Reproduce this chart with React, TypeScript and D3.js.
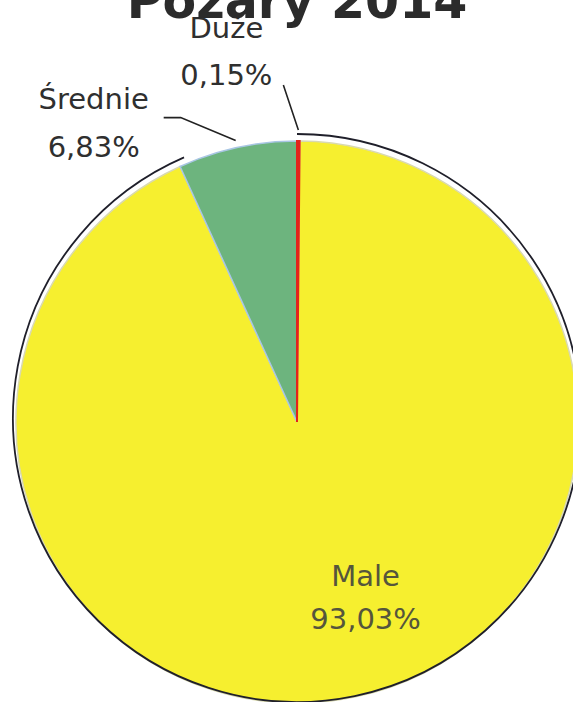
import React from 'react';
import * as d3 from 'd3';

const width = 573;
const height = 702;

// slices, clockwise from 12 o'clock
const categories = ['Duże', 'Male', 'Średnie'];
const values = [0.15, 93.03, 6.83];
const valueLabels = ['0,15%', '93,03%', '6,83%'];
const colors = ['#e3231b', '#f6ef2f', '#6db47e'];

const title = 'Pożary 2014';

const cx = 297;
const cy = 422;
const radius = 281;

const App = () => {
	const arcs = d3.pie<number>().sort(null).value((d) => d)(values);
	const getArc = d3.arc<d3.PieArcDatum<number>>().innerRadius(0).outerRadius(radius);
	const outerPoint = (a: d3.PieArcDatum<number>, r: number) => {
		const mid = (a.startAngle + a.endAngle) / 2;
		return [Math.sin(mid) * r, -Math.cos(mid) * r];
	};

	// outline ring drawn around the pie, open above the green slice
	const ring = d3
		.arc()
		.innerRadius(radius + 3)
		.outerRadius(radius + 3)({
		startAngle: 0,
		endAngle: arcs[2].startAngle + 0.02,
		innerRadius: 0,
		outerRadius: 0,
	} as any);

	const [dx0, dy0] = outerPoint(arcs[0], radius + 7);
	const [dx2, dy2] = outerPoint(arcs[2], radius + 7);
	const [mx, my] = outerPoint(arcs[1], 190);

	const font = 'DejaVu Sans, sans-serif';
	const textColor = '#2f2f2f';

	// draw the thin red slice last so the others' edges don't hide it
	const drawOrder = [1, 2, 0];

	return (
		<svg width={width} height={height} style={{ position: 'absolute', left: 0, top: 0 }}>
			<rect width={width} height={height} fill="#fff" />
			<g transform={`translate(${cx},${cy})`}>
				{drawOrder.map((i) => (
					<path
						key={categories[i]}
						d={getArc(arcs[i]) || ''}
						fill={colors[i]}
						stroke={i === 1 ? '#d9d9b0' : i === 2 ? '#a9c6e4' : colors[i]}
						strokeWidth={i === 0 ? 2 : 1.5}
					/>
				))}
				<path d={ring || ''} fill="none" stroke="#1f1f2a" strokeWidth={1.8} transform="translate(0,-4)" />
				{/* leader lines */}
				<polyline
					points={`${dx0},${dy0 - 4} ${dx0 - 15},${dy0 - 49}`}
					fill="none"
					stroke="#222"
					strokeWidth={1.6}
				/>
				<polyline
					points={`${dx2},${dy2} ${dx2 - 55},${dy2 - 23} ${dx2 - 72},${dy2 - 23}`}
					fill="none"
					stroke="#222"
					strokeWidth={1.6}
				/>
				{/* Duże */}
				<g fontFamily={font} fontSize={29} fill={textColor} textAnchor="middle">
					<text x={dx0 - 72} y={dy0 - 96}>{categories[0]}</text>
					<text x={dx0 - 72} y={dy0 - 49}>{valueLabels[0]}</text>
				</g>
				{/* Średnie */}
				<g fontFamily={font} fontSize={29} fill={textColor} textAnchor="middle">
					<text x={dx2 - 142} y={dy2 - 32}>{categories[2]}</text>
					<text x={dx2 - 142} y={dy2 + 16}>{valueLabels[2]}</text>
				</g>
				{/* Male, inside the slice */}
				<g fontFamily={font} fontSize={29} textAnchor="middle" fill="#55553c">
					<text x={mx + 29} y={my - 22}>{categories[1]}</text>
					<text x={mx + 29} y={my + 21}>{valueLabels[1]}</text>
				</g>
			</g>
			<text
				x={cx}
				y={18}
				textAnchor="middle"
				fontFamily={font}
				fontWeight="bold"
				fontSize={49}
				fill="#2b2b2b"
			>
				{title}
			</text>
		</svg>
	);
};

export default App;
